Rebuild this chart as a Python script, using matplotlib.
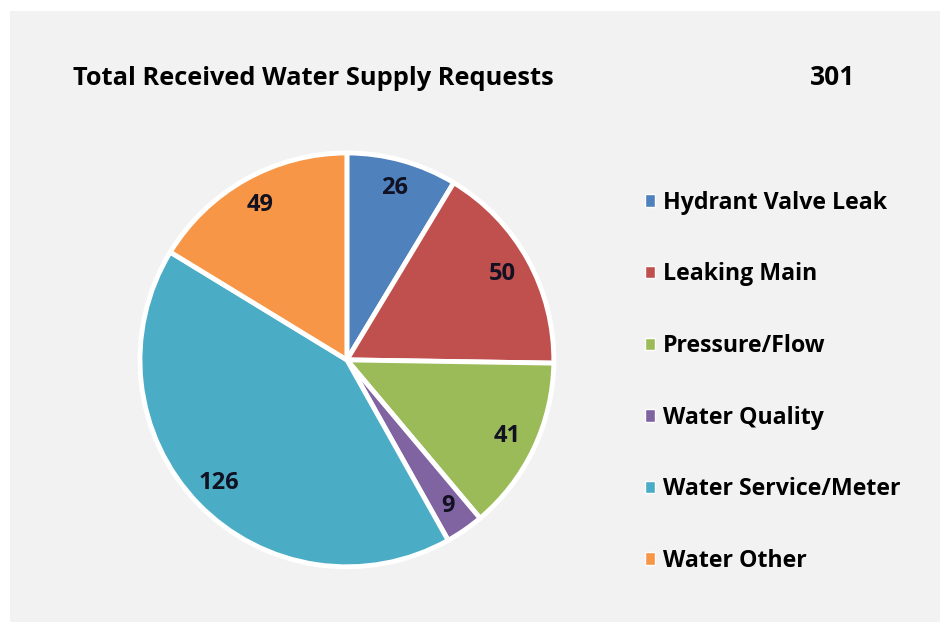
import matplotlib.pyplot as plt
from matplotlib.patches import Patch, Rectangle

# data
categories = ["Hydrant Valve Leak", "Leaking Main", "Pressure/Flow",
              "Water Quality", "Water Service/Meter", "Water Other"]
counts = [26, 50, 41, 9, 126, 49]
colors = ["#4F81BD", "#C0504D", "#9BBB59", "#8064A2", "#4BACC6", "#F79646"]
title = "Total Received Water Supply Requests"
total_label = "301"

plt.rcParams['font.family'] = ['Open Sans', 'DejaVu Sans']

fig = plt.figure(figsize=(9.47, 6.22), dpi=100)
fig.patch.set_facecolor("white")
# light gray chart panel
fig.patches.append(Rectangle((0.011, 0.0), 0.982, 0.983, transform=fig.transFigure,
                             facecolor="#f2f2f2", edgecolor="none", zorder=-1))

ax = fig.add_axes([0.1478, 0.0884, 0.437, 0.666])
total = sum(counts)
wedges, texts, autotexts = ax.pie(
    counts, colors=colors, startangle=90, counterclock=False,
    autopct=lambda p: f"{round(p * total / 100)}", pctdistance=0.86,
    wedgeprops=dict(edgecolor="white", linewidth=3.5),
    textprops=dict(fontsize=17, fontweight="bold", color="#111122"))
ax.set_xlim(-1, 1)
ax.set_ylim(-1, 1)
ax.set_aspect("equal")

fig.text(0.077, 0.873, title, fontsize=18.3, fontweight="bold", va="center", ha="left")
fig.text(0.879, 0.875, total_label, fontsize=19, fontweight="bold", va="center", ha="center")

handles = [Patch(facecolor=c, edgecolor="white", linewidth=1) for c in colors]
fig.legend(handles, categories, loc="upper left", bbox_to_anchor=(0.671, 0.708),
           frameon=False, prop=dict(size=16.7, weight="bold"),
           handlelength=0.45, handleheight=0.45, handletextpad=0.35,
           labelspacing=2.05, borderaxespad=0)

fig.savefig("out.png", dpi=100)
